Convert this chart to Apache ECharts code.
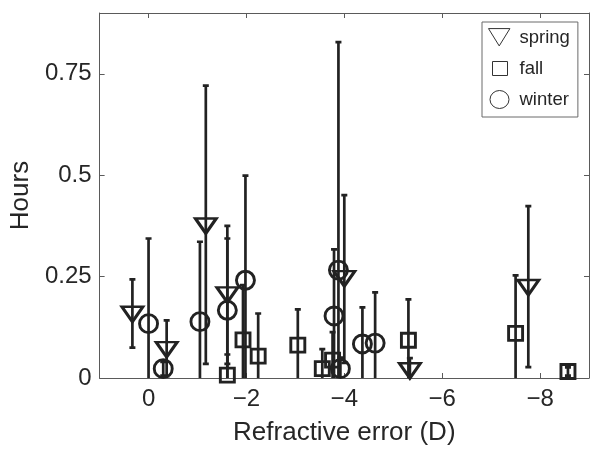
<!DOCTYPE html>
<html>
<head>
<meta charset="utf-8">
<script src="https://cdn.jsdelivr.net/npm/echarts@6/dist/echarts.min.js"></script>
<style>
html,body{margin:0;padding:0;background:#fff;}
#chart{width:600px;height:453px;}
</style>
</head>
<body>
<div id="chart"></div>
<script>
// ---- data (refractive error in D, hours) ----
const springX    = [0.33, -0.37, -1.17, -1.61, -4.00, -5.34, -7.76];
const springY    = [0.157, 0.070, 0.375, 0.205, 0.245, 0.018, 0.223];
const springLow  = [0.075, -0.002, 0.035, 0.035, 0.037, -0.012, 0.027];
const springHigh = [0.243, 0.142, 0.721, 0.375, 0.451, 0.049, 0.424];

const fallX    = [-1.61, -1.93, -2.24, -3.05, -3.55, -3.76, -5.31, -7.50, -8.57];
const fallY    = [0.007, 0.094, 0.054, 0.081, 0.023, 0.044, 0.093, 0.110, 0.016];
const fallLow  = [-0.044, -0.041, -0.051, -0.007, -0.025, -0.025, -0.007, -0.034, 0.006];
const fallHigh = [0.058, 0.229, 0.159, 0.169, 0.071, 0.113, 0.194, 0.253, 0.026];

const winterX    = [0.00, -0.30, -1.05, -1.61, -1.98, -3.79, -3.88, -3.92, -4.37, -4.63];
const winterY    = [0.134, 0.023, 0.139, 0.167, 0.241, 0.153, 0.266, 0.023, 0.084, 0.086];
const winterLow  = [-0.076, 0.006, -0.058, -0.010, -0.017, -0.011, -0.296, -0.004, -0.006, -0.039];
const winterHigh = [0.344, 0.040, 0.336, 0.344, 0.499, 0.317, 0.828, 0.050, 0.174, 0.211];

const seriesNames = ['spring', 'fall', 'winter'];
const xTickValues = [0, -2, -4, -6, -8];
const yTickValues = [0, 0.25, 0.5, 0.75];
const xRange = [-9, 1];
const yRange = [0, 0.9];
const xTitle = 'Refractive error (D)';
const yTitle = 'Hours';

// ---- styling ----
const INK = '#222';
const FRAME = '#5a5a5a';
const TXT = '#262626';
const FONT = '"Liberation Sans", Arial, Helvetica, sans-serif';

const plotTriangle = 'path://M0,0 L20,0 L10,15 Z';
const legendTriangle = 'path://M26,18 M0.5,0.5 L21.5,0.5 L11,17.5 Z';
const legendSquare = 'path://M0,0 M26,18 M4,2 L19,2 L19,16 L4,16 Z';
const legendCircle = 'path://M0,0 M26,18 M20.5,9 A9.5,9 0 1,1 1.5,9 A9.5,9 0 1,1 20.5,9 Z';

function pts(xs, ys) { return xs.map((x, i) => [x, ys[i]]); }
function bars(xs, lo, hi) { return xs.map((x, i) => [x, lo[i], hi[i]]); }

function renderErr(params, api) {
  const x = api.value(0), lo = api.value(1), hi = api.value(2);
  const pLo = api.coord([x, lo]);
  const pHi = api.coord([x, hi]);
  const hw = 3;
  const st = { stroke: INK, lineWidth: 2.7 };
  const cs = params.coordSys;
  return {
    type: 'group',
    clipPath: { type: 'rect', shape: { x: cs.x, y: cs.y, width: cs.width, height: cs.height } },
    children: [
      { type: 'line', shape: { x1: pLo[0], y1: pLo[1], x2: pHi[0], y2: pHi[1] }, style: st },
      { type: 'line', shape: { x1: pHi[0] - hw, y1: pHi[1], x2: pHi[0] + hw, y2: pHi[1] }, style: st },
      { type: 'line', shape: { x1: pLo[0] - hw, y1: pLo[1], x2: pLo[0] + hw, y2: pLo[1] }, style: st }
    ]
  };
}

function errSeries(data) {
  return { type: 'custom', renderItem: renderErr, data: data, z: 2, silent: true,
           encode: { x: 0, y: [1, 2] } };
}
function markSeries(name, data, symbol, size) {
  return {
    name: name, type: 'scatter', data: data, symbol: symbol, symbolSize: size, z: 3,
    itemStyle: { color: 'transparent', borderColor: INK, borderWidth: 2.9, opacity: 1 }
  };
}

const chart = echarts.init(document.getElementById('chart'), null, { renderer: 'canvas' });

const axisLineStyle = { show: true, onZero: false, lineStyle: { color: FRAME, width: 1 } };
const tickStyle = { show: true, inside: true, length: 5, lineStyle: { color: FRAME, width: 1 } };

chart.setOption({
  animation: false,
  backgroundColor: '#fff',
  grid: { left: 99, right: 11, top: 13, bottom: 75, containLabel: false },
  xAxis: [
    {
      type: 'value', min: xRange[0], max: xRange[1], inverse: true, position: 'bottom',
      name: xTitle, nameLocation: 'middle', nameGap: 42,
      nameTextStyle: { fontFamily: FONT, fontSize: 26, color: TXT },
      axisLine: axisLineStyle,
      axisTick: Object.assign({}, tickStyle, { customValues: xTickValues }),
      axisLabel: { customValues: xTickValues, margin: 9, fontFamily: FONT, fontSize: 24, color: TXT,
                   formatter: v => (v < 0 ? '\u2212' + Math.abs(v) : String(v)) },
      splitLine: { show: false }
    },
    {
      type: 'value', min: xRange[0], max: xRange[1], inverse: true, position: 'top',
      axisLine: axisLineStyle,
      axisTick: Object.assign({}, tickStyle, { customValues: xTickValues }),
      axisLabel: { show: false },
      splitLine: { show: false }
    }
  ],
  yAxis: [
    {
      type: 'value', min: yRange[0], max: yRange[1], position: 'left',
      name: yTitle, nameLocation: 'middle', nameGap: 64, nameRotate: 90,
      nameTextStyle: { fontFamily: FONT, fontSize: 26, color: TXT },
      axisLine: axisLineStyle,
      axisTick: Object.assign({}, tickStyle, { customValues: yTickValues }),
      axisLabel: { customValues: yTickValues, margin: 8, fontFamily: FONT, fontSize: 24, color: TXT },
      splitLine: { show: false }
    },
    {
      type: 'value', min: yRange[0], max: yRange[1], position: 'right',
      axisLine: axisLineStyle,
      axisTick: Object.assign({}, tickStyle, { customValues: yTickValues }),
      axisLabel: { show: false },
      splitLine: { show: false }
    }
  ],
  legend: {
    orient: 'vertical', left: 482, top: 22,
    padding: [6, 8, 8, 6],
    itemWidth: 26, itemHeight: 18, itemGap: 12,
    backgroundColor: '#fff', borderColor: '#6b6b6b', borderWidth: 1, borderRadius: 0,
    textStyle: { fontFamily: FONT, fontSize: 18.5, color: TXT },
    itemStyle: { color: 'transparent', borderColor: '#333', borderWidth: 1 },
    selectedMode: false,
    data: [
      { name: seriesNames[0], icon: legendTriangle },
      { name: seriesNames[1], icon: legendSquare },
      { name: seriesNames[2], icon: legendCircle }
    ]
  },
  series: [
    errSeries(bars(springX, springLow, springHigh)),
    errSeries(bars(fallX, fallLow, fallHigh)),
    errSeries(bars(winterX, winterLow, winterHigh)),
    markSeries(seriesNames[0], pts(springX, springY), plotTriangle, [21, 15]),
    markSeries(seriesNames[1], pts(fallX, fallY), 'rect', 14),
    markSeries(seriesNames[2], pts(winterX, winterY), 'circle', 18)
  ]
});
</script>
</body>
</html>
